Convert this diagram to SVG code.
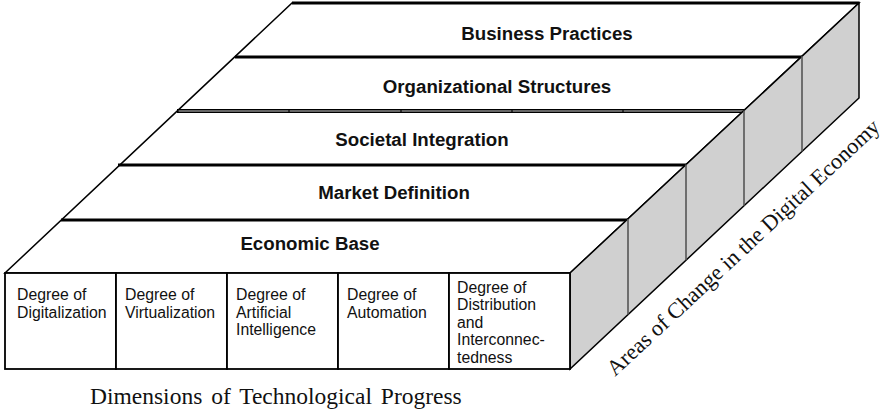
<svg xmlns="http://www.w3.org/2000/svg" width="895" height="410" viewBox="0 0 895 410">
  <style>
    .edge { stroke: #000; stroke-width: 1.5; fill: none; }
    .band { stroke: #000; stroke-width: 3; }
    .div { stroke: #555; stroke-width: 1.6; }
    .cell { fill: #fff; stroke: #000; stroke-width: 1.8; }
    .lbl { font-family: "Liberation Sans", Arial, sans-serif; font-weight: bold; font-size: 18.7px; fill: #111; text-anchor: middle; }
    .ctext { font-family: "Liberation Sans", Arial, sans-serif; font-size: 15.8px; fill: #111; }
    .axis { font-family: "Liberation Serif", "Times New Roman", serif; font-size: 23.5px; fill: #111; }
    .axis-r { font-family: "Liberation Serif", "Times New Roman", serif; font-size: 22.3px; fill: #111; }
  </style>
  <rect width="895" height="410" fill="#fff"/>

  <g id="top-face">
    <polygon points="292,3 859,3 570,273 5,273" fill="#fff" stroke="#000" stroke-width="1.5"/>
    <g id="band-business-practices">
      <line class="band" x1="292" y1="3" x2="859" y2="3"/>
      <text class="lbl" x="547" y="39.5">Business Practices</text>
    </g>
    <g id="band-organizational-structures">
      <line class="band" x1="235" y1="57" x2="802" y2="57"/>
      <text class="lbl" x="497" y="93">Organizational Structures</text>
    </g>
    <g id="band-societal-integration">
      <line x1="177" y1="111" x2="744" y2="111" stroke="#000" stroke-width="4"/>
      <line x1="178" y1="111" x2="743" y2="111" stroke="#8a8a8a" stroke-width="1.4"/>
      <g stroke="#000" stroke-width="1.2">
        <line x1="178" y1="109" x2="178" y2="113"/>
        <line x1="289" y1="109" x2="289" y2="113"/>
        <line x1="401" y1="109" x2="401" y2="113"/>
        <line x1="512" y1="109" x2="512" y2="113"/>
        <line x1="623" y1="109" x2="623" y2="113"/>
      </g>
      <text class="lbl" x="422" y="146">Societal Integration</text>
    </g>
    <g id="band-market-definition">
      <line class="band" x1="118" y1="165" x2="687" y2="165"/>
      <text class="lbl" x="394" y="198.5">Market Definition</text>
    </g>
    <g id="band-economic-base">
      <line class="band" x1="61" y1="220" x2="628" y2="220"/>
      <text class="lbl" x="310" y="250">Economic Base</text>
    </g>
  </g>

  <g id="right-face">
    <polygon points="570,273 859,3 859,98 570,369" fill="#d0d0d0" stroke="#000" stroke-width="1.5"/>
    <line class="div" x1="628" y1="219" x2="628" y2="314.6"/>
    <line class="div" x1="686" y1="164.6" x2="686" y2="260.2"/>
    <line class="div" x1="744" y1="110.4" x2="744" y2="205.8"/>
    <line class="div" x1="802" y1="56.2" x2="802" y2="151.5"/>
  </g>

  <g id="front-face">
    <g id="cell-digitalization">
      <rect class="cell" x="5" y="273" width="111" height="96"/>
      <text class="ctext"><tspan x="17" y="300">Degree of</tspan><tspan x="17" y="317.5">Digitalization</tspan></text>
    </g>
    <g id="cell-virtualization">
      <rect class="cell" x="116" y="273" width="111" height="96"/>
      <text class="ctext"><tspan x="125" y="300">Degree of</tspan><tspan x="125" y="317.5">Virtualization</tspan></text>
    </g>
    <g id="cell-ai">
      <rect class="cell" x="227" y="273" width="111" height="96"/>
      <text class="ctext"><tspan x="236" y="300">Degree of</tspan><tspan x="236" y="317.5">Artificial</tspan><tspan x="236" y="335">Intelligence</tspan></text>
    </g>
    <g id="cell-automation">
      <rect class="cell" x="338" y="273" width="111" height="96"/>
      <text class="ctext"><tspan x="347" y="300">Degree of</tspan><tspan x="347" y="317.5">Automation</tspan></text>
    </g>
    <g id="cell-distribution">
      <rect class="cell" x="449" y="273" width="121" height="96"/>
      <text class="ctext"><tspan x="457" y="292.5">Degree of</tspan><tspan x="457" y="310">Distribution</tspan><tspan x="457" y="327.5">and</tspan><tspan x="457" y="345">Interconnec-</tspan><tspan x="457" y="362.5">tedness</tspan></text>
    </g>
  </g>

  <g id="axis-labels">
    <text class="axis" x="90" y="404" word-spacing="3">Dimensions of Technological Progress</text>
    <text class="axis-r" transform="translate(615,377) rotate(-43)">Areas of Change in the Digital Economy</text>
  </g>
</svg>
